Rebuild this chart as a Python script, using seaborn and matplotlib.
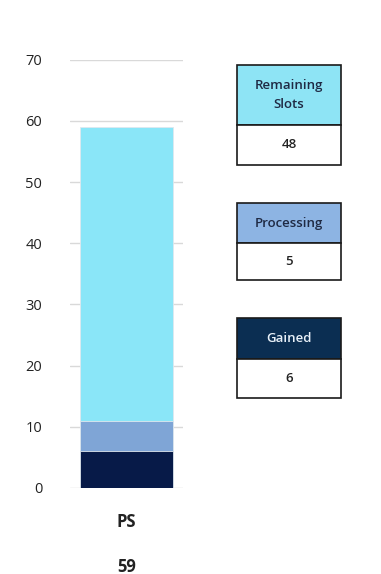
import seaborn as sns
import pandas as pd
from matplotlib import pyplot as plt
from matplotlib.patches import Rectangle

sns.set_theme(style="white")
plt.rcParams['font.family'] = ['Liberation Sans Narrow', 'Open Sans', 'DejaVu Sans']

# data
category = "PS"
series = ["Gained", "Processing", "Remaining Slots"]
values = [6, 5, 48]
colors = ["#071a48", "#7fa5d6", "#8ae6f8"]
header_colors = ["#0b2e52", "#8db4e3", "#8ee4f5"]
header_text = ["#e8f0f8", "#1f2a44", "#1f2a44"]
yticks = [0, 10, 20, 30, 40, 50, 60, 70]

total = sum(values)
cum = []
run = 0
for v in values:
    run += v
    cum.append(run)

fig = plt.figure(figsize=(3.81, 5.74), dpi=100)
ax = fig.add_axes([0.184, 0.150, 0.297, 0.746])

label = f"{category}\n{total}"
# stacked: draw cumulative totals from top segment down
for name, top, col in reversed(list(zip(series, cum, colors))):
    df = pd.DataFrame({"cat": [label], "val": [top]})
    sns.barplot(data=df, x="cat", y="val", color=col, width=0.82,
                saturation=1, edgecolor="#dfe8ee", linewidth=0.6, ax=ax)

ax.set_ylim(0, 70)
ax.set_xlim(-0.5, 0.5)
ax.set_yticks(yticks)
ax.set_xlabel("")
ax.set_ylabel("")
ax.yaxis.grid(True, color="#d9d9d9", linewidth=1)
ax.set_axisbelow(True)
for s in ax.spines.values():
    s.set_visible(False)
ax.tick_params(axis="y", labelsize=10.5, pad=20, length=0, colors="#222222")
ax.tick_params(axis="x", labelsize=12, pad=18, length=0, colors="#222222")
for t in ax.get_xticklabels():
    t.set_linespacing(2.9)
    t.set_fontweight("bold")

# legend-like value boxes on the right (figure pixels -> fraction)
W, H = 381, 574
boxes = [  # (top, header bottom, bottom) in pixel rows
    (318, 359, 398),
    (203, 243, 280),
    (65, 125, 165),
]
x0, x1 = 237, 341
for name, val, hc, tc, (top, mid, bot) in zip(series, values, header_colors, header_text, boxes):
    fig.patches.append(Rectangle((x0 / W, 1 - mid / H), (x1 - x0) / W, (mid - top) / H,
                                 transform=fig.transFigure, facecolor=hc,
                                 edgecolor="#1a1a1a", linewidth=1.2))
    fig.patches.append(Rectangle((x0 / W, 1 - bot / H), (x1 - x0) / W, (bot - mid) / H,
                                 transform=fig.transFigure, facecolor="white",
                                 edgecolor="#1a1a1a", linewidth=1.2))
    hdr = name.replace(" ", "\n")
    fig.text((x0 + x1) / 2 / W, 1 - (top + mid) / 2 / H, hdr, ha="center", va="center",
             fontsize=9.5, fontweight="semibold", color=tc, linespacing=1.55)
    fig.text((x0 + x1) / 2 / W, 1 - (mid + bot) / 2 / H, str(val), ha="center", va="center",
             fontsize=9.5, fontweight="semibold", color="#222222")

fig.savefig("out.png", dpi=100)
